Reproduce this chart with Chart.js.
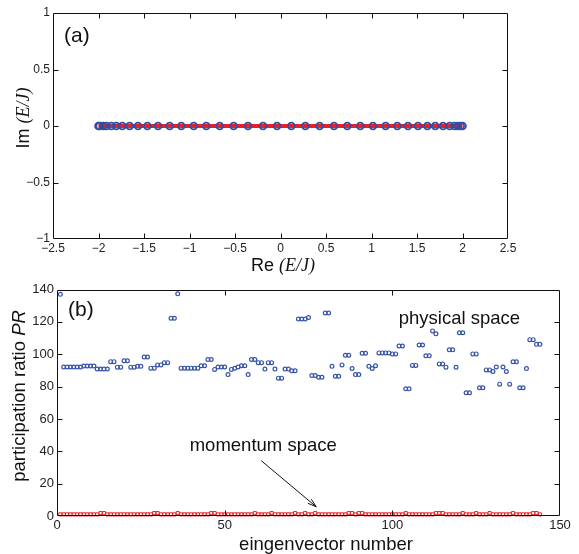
<!DOCTYPE html>
<html>
<head>
<meta charset="utf-8">
<script src="https://cdn.jsdelivr.net/npm/chart.js@4.4.0/dist/chart.umd.min.js"></script>
<style>
  body { margin: 0; background: #fff; }
  #wrap { position: relative; width: 579px; height: 554px; }
  canvas { position: absolute; left: 0; }
  #chartA { top: 0; }
  #chartB { top: 280px; }
</style>
</head>
<body>
<div id="wrap">
  <canvas id="chartA" width="579" height="280"></canvas>
  <canvas id="chartB" width="579" height="274"></canvas>
</div>
<script>
// (a) eigenvalues
let reE = [-2.0, -1.987, -1.95, -1.914, -1.859, -1.804, -1.738, -1.658, -1.566, -1.463,
  -1.346, -1.218, -1.09, -0.954, -0.815, -0.668, -0.515, -0.357, -0.192, -0.038,
  0.119, 0.273, 0.43, 0.588, 0.734, 0.877, 1.016, 1.155, 1.284, 1.401,
  1.511, 1.614, 1.701, 1.786, 1.859, 1.914, 1.95, 1.98, 2.0];
let imE = [0, 0, 0, 0, 0, 0, 0, 0, 0, 0, 0, 0, 0, 0, 0, 0, 0, 0, 0, 0,
  0, 0, 0, 0, 0, 0, 0, 0, 0, 0, 0, 0, 0, 0, 0, 0, 0, 0, 0];
let bandRe = [-2, 2];
let bandIm = [0, 0];

// (b) participation ratio per eigenvector
let physicalPR = [137,
  92.1, 92.1, 92.1, 92.1, 92.1, 92.1,
  92.7, 92.7, 92.7, 92.7,
  90.9, 90.9, 90.9, 90.9,
  95.4, 95.4, 92, 92, 96, 96, 92, 92, 92.5, 92.5,
  98.3, 98.3, 91.4, 91.4, 93.4, 93.4, 94.8, 94.8,
  122.2, 122.2, 137.3,
  91.4, 91.4, 91.4, 91.4, 91.4, 91.4,
  92.9, 92.9, 96.7, 96.7, 90.6, 92.1, 92.1, 92.1, 87.4,
  90.6, 91.3, 92.1, 92.9, 92.9, 87.4, 96.7, 96.7, 94.8, 94.8,
  90.8, 94.8, 94.8, 90.8, 85.2, 85.2, 90.8, 90.8, 89.8, 89.8,
  121.8, 121.8, 121.8, 122.7, 86.8, 86.8, 85.8, 85.8, 125.5, 125.5,
  92.5, 86.4, 86.4, 93.4, 99.4, 99.4, 91.2, 87.4, 87.4, 100.6, 100.6,
  92.5, 91.2, 92.9, 100.8, 100.8, 100.8, 100.8, 100.2, 100.2,
  105.1, 105.1, 78.6, 78.6, 93.1, 93.1, 105.7, 105.7, 99, 99,
  114.4, 112.6, 94, 94, 92, 102.7, 102.7, 91.9, 113.3, 113.3,
  76.2, 76.2, 100.2, 100.2, 79.3, 79.3, 90.3, 90.3, 89.3, 92.1,
  81.5, 92.1, 89.3, 81.5, 95.3, 95.3, 79.3, 79.3, 91.1,
  109, 109, 106.1, 106.1];
let momentumPR = [
  1, 1, 1, 1, 1, 1, 1, 1, 1, 1, 1, 1,
  1.8, 1.8, 1, 1, 1, 1, 1, 1, 1, 1, 1, 1,
  1, 1, 1, 1, 1.8, 1.8, 1, 1, 1, 1, 1, 1.8,
  1, 1, 1, 1, 1, 1, 1, 1, 1, 1.8, 1.8, 1,
  1, 1, 1, 1, 1, 1, 1, 1, 1, 1, 1.8, 1,
  1, 1, 1, 1.8, 1, 1, 1, 1, 1, 1, 1.8, 1,
  1, 1.8, 1, 1, 1.8, 1, 1, 1, 1, 1, 1, 1,
  1, 1, 1.8, 1.8, 1, 1.8, 1.8, 1, 1, 1, 1, 1,
  1, 1, 1, 1, 1, 1, 1, 1.8, 1, 1, 1, 1,
  1, 1, 1, 1, 1.8, 1.8, 1.8, 1, 1, 1, 1, 1,
  1.8, 1, 1, 1, 1.8, 1, 1, 1, 1.8, 1, 1, 1,
  1, 1, 1, 1.8, 1, 1, 1, 1, 1, 1.8, 1.8, 1];
let eigIndex = physicalPR.map((v, i) => i + 1);

let sans = '"Liberation Sans", Arial, sans-serif';
let serif = '"Liberation Serif", "Times New Roman", serif';

function pairs(xs, ys) {
  return xs.map((x, i) => ({ x: x, y: ys[i] }));
}

function tickText(v) {
  return (v < 0 ? '\u2212' : '') + Math.abs(v);
}

// text made of runs with different fonts, centred on (x, y)
function drawRuns(ctx, runs, x, y, angle) {
  let total = 0;
  let widths = runs.map(r => {
    ctx.font = r[1];
    let w = ctx.measureText(r[0]).width;
    total += w;
    return w;
  });
  ctx.save();
  ctx.translate(x, y);
  ctx.rotate(angle);
  ctx.fillStyle = '#111';
  ctx.textAlign = 'left';
  ctx.textBaseline = 'alphabetic';
  let cx = -total / 2;
  runs.forEach((r, i) => {
    ctx.font = r[1];
    ctx.fillText(r[0], cx, 0);
    cx += widths[i];
  });
  ctx.restore();
}

// matlab style box with inward ticks on all four sides
function drawBox(chart, len) {
  let ctx = chart.ctx;
  let a = chart.chartArea;
  let sx = chart.scales.x;
  let sy = chart.scales.y;
  let L = Math.round(a.left) + 0.5, R = Math.round(a.right) - 0.5;
  let T = Math.round(a.top) + 0.5, B = Math.round(a.bottom) - 0.5;
  ctx.save();
  ctx.strokeStyle = '#111';
  ctx.lineWidth = 1;
  ctx.beginPath();
  sx.ticks.forEach(t => {
    let px = Math.round(sx.getPixelForValue(t.value)) + 0.5;
    if (px <= L + 1 || px >= R - 1) return;
    ctx.moveTo(px, B); ctx.lineTo(px, B - len);
    ctx.moveTo(px, T); ctx.lineTo(px, T + len);
  });
  sy.ticks.forEach(t => {
    let py = Math.round(sy.getPixelForValue(t.value)) + 0.5;
    if (py <= T + 1 || py >= B - 1) return;
    ctx.moveTo(L, py); ctx.lineTo(L + len, py);
    ctx.moveTo(R, py); ctx.lineTo(R - len, py);
  });
  ctx.rect(L, T, R - L, B - T);
  ctx.stroke();
  ctx.restore();
}

function axisOpts(min, max, step, fontSize, pad, fit) {
  return {
    type: 'linear',
    min: min,
    max: max,
    grid: { display: false, drawTicks: false },
    border: { display: false },
    ticks: {
      stepSize: step,
      padding: pad,
      color: '#222',
      autoSkip: false,
      maxRotation: 0,
      font: { family: sans, size: fontSize, lineHeight: 1 },
      callback: tickText
    },
    afterFit: fit
  };
}

let panelA = {
  id: 'panelA',
  afterDraw(chart) {
    let ctx = chart.ctx;
    let a = chart.chartArea;
    drawBox(chart, 5);
    ctx.save();
    ctx.fillStyle = '#111';
    ctx.font = '21px ' + sans;
    ctx.textBaseline = 'middle';
    ctx.fillText('(a)', a.left + 11, a.top + 23);
    ctx.restore();
    drawRuns(ctx, [['Re ', '18px ' + sans], ['(E/J)', 'italic 18px ' + serif]], 283, 271, 0);
    drawRuns(ctx, [['Im ', '18px ' + sans], ['(E/J)', 'italic 18px ' + serif]], 29, 118, -Math.PI / 2);
  }
};

let panelB = {
  id: 'panelB',
  afterDraw(chart) {
    let ctx = chart.ctx;
    let a = chart.chartArea;
    let sx = chart.scales.x;
    let sy = chart.scales.y;
    drawBox(chart, 5);
    ctx.save();
    ctx.fillStyle = '#111';
    ctx.font = '21px ' + sans;
    ctx.textBaseline = 'middle';
    ctx.fillText('(b)', a.left + 11, a.top + 21);
    ctx.font = '18.5px ' + sans;
    ctx.textAlign = 'center';
    ctx.textBaseline = 'alphabetic';
    ctx.fillText('physical space', sx.getPixelForValue(120), sy.getPixelForValue(118.6));
    ctx.fillText('momentum space', sx.getPixelForValue(61.5), sy.getPixelForValue(40.3));
    // arrow to the momentum band
    let x0 = sx.getPixelForValue(60.9), y0 = sy.getPixelForValue(34.2);
    let x1 = sx.getPixelForValue(77.3), y1 = sy.getPixelForValue(5.7);
    let ang = Math.atan2(y1 - y0, x1 - x0);
    ctx.strokeStyle = '#111';
    ctx.lineWidth = 1;
    ctx.beginPath();
    ctx.moveTo(x0, y0);
    ctx.lineTo(x1, y1);
    ctx.moveTo(x1 - 9 * Math.cos(ang - 0.3), y1 - 9 * Math.sin(ang - 0.3));
    ctx.lineTo(x1, y1);
    ctx.lineTo(x1 - 9 * Math.cos(ang + 0.3), y1 - 9 * Math.sin(ang + 0.3));
    ctx.stroke();
    ctx.restore();
    drawRuns(ctx, [['eingenvector number', '18.5px ' + sans]], 326, 270, 0);
    drawRuns(ctx, [['participation ratio ', '18.5px ' + sans], ['PR', 'italic 18.5px ' + sans]], 25, 116, -Math.PI / 2);
  }
};

let chartA = new Chart(document.getElementById('chartA'), {
  type: 'scatter',
  data: {
    datasets: [
      {
        data: pairs(reE, imE),
        order: 0,
        pointStyle: 'circle',
        pointRadius: 3.4,
        pointBorderWidth: 1.8,
        pointBorderColor: '#2f4fa3',
        pointBackgroundColor: 'rgba(0,0,0,0)'
      },
      {
        data: pairs(bandRe, bandIm),
        order: 1,
        showLine: true,
        borderColor: '#e8202a',
        borderWidth: 4,
        pointRadius: 0
      }
    ]
  },
  options: {
    responsive: false,
    animation: false,
    layout: { padding: { top: 13, right: 71, left: 0, bottom: 0 } },
    plugins: { legend: { display: false }, tooltip: { enabled: false } },
    scales: {
      x: axisOpts(-2.5, 2.5, 0.5, 12, 4, s => { s.height = 41; }),
      y: axisOpts(-1, 1, 0.5, 12, 3, s => { s.width = 53; })
    }
  },
  plugins: [panelA]
});

let chartB = new Chart(document.getElementById('chartB'), {
  type: 'scatter',
  data: {
    datasets: [
      {
        data: pairs(eigIndex, physicalPR),
        pointStyle: 'circle',
        pointRadius: 1.9,
        pointBorderWidth: 1.2,
        pointBorderColor: '#3553a8',
        pointBackgroundColor: 'rgba(0,0,0,0)',
        clip: false
      },
      {
        data: pairs(eigIndex, momentumPR),
        pointStyle: 'rect',
        pointRadius: 2.2,
        pointBorderWidth: 1,
        pointBorderColor: '#e62429',
        pointBackgroundColor: 'rgba(0,0,0,0)',
        clip: false
      }
    ]
  },
  options: {
    responsive: false,
    animation: false,
    layout: { padding: { top: 7, right: 19, left: 0, bottom: 0 } },
    plugins: { legend: { display: false }, tooltip: { enabled: false } },
    scales: {
      x: axisOpts(0, 150, 50, 13, 3, s => { s.height = 38; }),
      y: axisOpts(0, 140, 20, 13, 3, s => { s.width = 57; })
    }
  },
  plugins: [panelB]
});
</script>
</body>
</html>
